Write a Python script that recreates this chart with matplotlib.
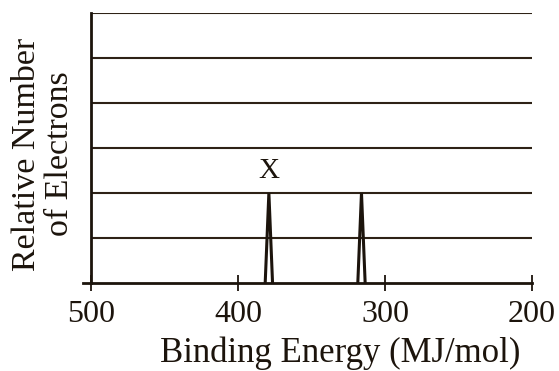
import numpy as np
import matplotlib.pyplot as plt

plt.rcParams['font.family'] = ['Liberation Serif', 'DejaVu Serif']

# peak data: binding energy (MJ/mol) and relative height
peak_x = [379, 316]
peak_h = [2, 2]
peak_half_width = 2.5
peak_label = 'X'
xticks = [500, 400, 300, 200]
grid_levels = [1, 2, 3, 4, 5, 6]

ink = '#1c140c'
line_ink = '#2e2216'

fig = plt.figure(figsize=(5.59, 3.71), dpi=100)
ax = fig.add_axes([91 / 559, (371 - 283) / 371, (532 - 91) / 559, (283 - 13) / 371])

for g in grid_levels:
    ax.axhline(g, color=line_ink, lw=1.5, zorder=1)

for x, h in zip(peak_x, peak_h):
    ax.plot([x + peak_half_width, x, x - peak_half_width], [0, h, 0], color=ink, lw=2.2,
            solid_joinstyle='miter', zorder=3)

ax.text(peak_x[0], peak_h[0] + 0.2, peak_label, ha='center', va='bottom', fontsize=21, color=ink)

ax.set_xlim(500, 200)
ax.set_ylim(0, 6)
ax.set_xticks(xticks)
ax.set_xticklabels([str(t) for t in xticks], fontsize=23, color=ink)
ax.set_yticks([])
ax.tick_params(axis='x', direction='inout', length=12, width=1.3, color=ink, pad=6)
for s in ['top', 'right']:
    ax.spines[s].set_visible(False)
for s in ['left', 'bottom']:
    ax.spines[s].set_color(ink)
    ax.spines[s].set_linewidth(2)
ax.spines['bottom'].set_bounds(505.5, 200)

fig.text(340 / 559, 1 - 362 / 371, 'Binding Energy (MJ/mol)', ha='center', va='baseline',
         fontsize=25, color=ink)
fig.text(43 / 559, 1 - 154 / 371, 'Relative Number\nof Electrons', ha='center', va='center',
         rotation=90, fontsize=24.5, color=ink, linespacing=1.1, multialignment='center')

fig.savefig('out.png', dpi=100)
